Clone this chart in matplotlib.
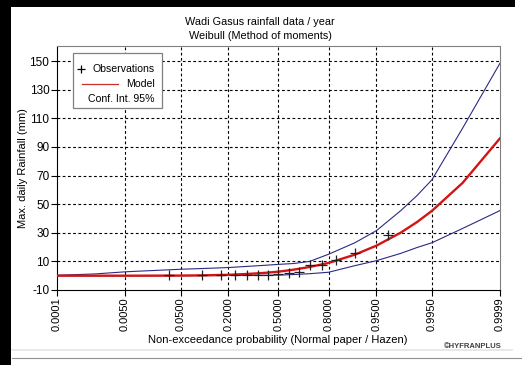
import matplotlib
matplotlib.use("Agg")
import matplotlib.pyplot as plt
import numpy as np
from statistics import NormalDist
from matplotlib.patches import Rectangle
from matplotlib.lines import Line2D

# observations, Hazen plotting positions (n = 15)
obs_prob = [0.0333, 0.1, 0.1667, 0.2333, 0.3, 0.3667, 0.4333, 0.5,
            0.5667, 0.6333, 0.7, 0.7667, 0.8333, 0.9, 0.9667]
obs_rain = [0.8, 0.8, 0.8, 0.8, 0.8, 0.8, 0.8, 1.5,
            2.0, 2.4, 7.3, 7.3, 10.8, 15.9, 28.1]

# fitted Weibull quantiles and 95% confidence band
curve_prob = [0.0001, 0.001, 0.005, 0.01, 0.02, 0.05, 0.1, 0.2, 0.3, 0.4, 0.5,
              0.6, 0.7, 0.8, 0.9, 0.95, 0.98, 0.99, 0.995, 0.999, 0.9999]
model = [0.0, 0.0, 0.0, 0.01, 0.03, 0.09, 0.23, 0.63, 1.2, 1.9, 2.8,
         4.2, 6.1, 8.9, 14.7, 21.0, 30.1, 37.5, 45.3, 64.8, 96.0]
upper = [0.3, 1.2, 2.7, 3.2, 3.7, 4.5, 5.0, 5.7, 6.5, 7.2, 7.9,
         8.5, 10.0, 15.0, 23.0, 31.5, 45.5, 56.0, 67.0, 103.0, 148.5]
lower = [0.0, 0.0, 0.0, 0.0, 0.0, 0.0, 0.05, 0.1, 0.2, 0.3, 0.4,
         0.8, 1.4, 2.4, 7.0, 10.5, 15.6, 19.7, 23.0, 33.0, 45.5]

xticks = [0.0001, 0.005, 0.05, 0.2, 0.5, 0.8, 0.95, 0.995, 0.9999]
xticklabels = ["0.0001", "0.0050", "0.0500", "0.2000", "0.5000",
               "0.8000", "0.9500", "0.9950", "0.9999"]
yticks = [-10, 10, 30, 50, 70, 90, 110, 130, 150]

W, H = 522, 365
nd = NormalDist()
_ppf = np.vectorize(lambda p: nd.inv_cdf(min(max(p, 1e-12), 1 - 1e-12)), otypes=[float])
_cdf = np.vectorize(nd.cdf, otypes=[float])


def normal_fwd(p):
    return _ppf(np.asarray(p, dtype=float))


def normal_inv(z):
    return _cdf(np.asarray(z, dtype=float))


def px(x, y):
    return x / W, 1 - y / H


plt.rcParams['font.family'] = ['Liberation Sans', 'DejaVu Sans']
fig = plt.figure(figsize=(W / 100, H / 100), dpi=100)
fig.patch.set_facecolor('white')

# window frame
fig.patches.append(Rectangle((0, 0), 11 / W, 1, transform=fig.transFigure,
                             facecolor='black', edgecolor='none'))
fig.patches.append(Rectangle((0, 1 - 7 / H), 515 / W, 7 / H, transform=fig.transFigure,
                             facecolor='black', edgecolor='none'))
fig.add_artist(Line2D([12 / W, 512 / W], [1 - 350 / H] * 2, transform=fig.transFigure,
                      color='#e4e4e4', lw=1.2))
fig.add_artist(Line2D([12 / W, 1], [1 - 358 / H] * 2, transform=fig.transFigure,
                      color='#909090', lw=0.8))

l, b = px(57, 290)
r, t = px(500, 46)
ax = fig.add_axes([l, b, r - l, t - b])
ax.set_xscale('function', functions=(normal_fwd, normal_inv))
ax.set_xlim(0.0001, 0.9999)
ax.set_ylim(-10, 160.5)

dash = (0, (2.5, 2.2))
for p in xticks[1:-1]:
    ax.axvline(p, color='black', lw=0.8, ls=dash, zorder=1)
for v in yticks[1:]:
    ax.axhline(v, color='black', lw=0.8, ls=dash, zorder=1)

ax.plot(curve_prob, upper, color='#2a2a85', lw=0.8, zorder=3)
ax.plot(curve_prob, lower, color='#2a2a85', lw=0.8, zorder=3)
ax.plot(curve_prob, model, color='#d41414', lw=1.7, zorder=4)
ax.plot(obs_prob, obs_rain, ls='none', marker='+', ms=7, mew=0.9,
        color='#202020', zorder=5)

ax.set_xticks(xticks)
ax.set_xticklabels(xticklabels, rotation=90, fontsize=8)
ax.xaxis.set_minor_locator(matplotlib.ticker.NullLocator())
ax.set_yticks(yticks)
ax.set_yticklabels([str(v) for v in yticks], fontsize=8.5)
ax.tick_params(direction='out', length=4, width=0.8, pad=1.5, colors='black')
for side in ('top', 'right'):
    ax.spines[side].set_color('#808080')
for side in ('left', 'bottom'):
    ax.spines[side].set_color('black')

ax.set_ylabel('Max. daily Rainfall (mm)', fontsize=8)
ax.yaxis.set_label_coords((28 - 57) / 443, 0.5)
fig.text(*px(278, 340), 'Non-exceedance probability (Normal paper / Hazen)',
         ha='center', va='center', fontsize=8)
fig.text(*px(502, 347), '©HYFRANPLUS', ha='right', va='center',
         fontsize=5.5, fontweight='bold', color='#404040')
fig.text(*px(260, 22), 'Wadi Gasus rainfall data / year',
         ha='center', va='center', fontsize=7.8)
fig.text(*px(260, 36), 'Weibull (Method of moments)',
         ha='center', va='center', fontsize=7.8)

# legend box
lx0, ly0 = px(73, 108)
lx1, ly1 = px(162, 53)
fig.patches.append(Rectangle((lx0, ly0), lx1 - lx0, ly1 - ly0, transform=fig.transFigure,
                             facecolor='white', edgecolor='#808080', lw=0.9, zorder=10))
fig.add_artist(Line2D([81 / W], [1 - 69 / H], transform=fig.transFigure, marker='+',
                      ms=6, mew=0.9, color='black', zorder=11))
fig.add_artist(Line2D([82 / W, 118 / W], [1 - 84 / H] * 2, transform=fig.transFigure,
                      color='#c83030', lw=0.9, zorder=11))
fig.text(*px(155, 69), 'Observations', ha='right', va='center', fontsize=7.6, zorder=12)
fig.text(*px(155, 84), 'Model', ha='right', va='center', fontsize=7.6, zorder=12)
fig.text(*px(155, 99), 'Conf. Int. 95%', ha='right', va='center', fontsize=7.6, zorder=12)

fig.savefig('out.png', dpi=100, facecolor='white')
